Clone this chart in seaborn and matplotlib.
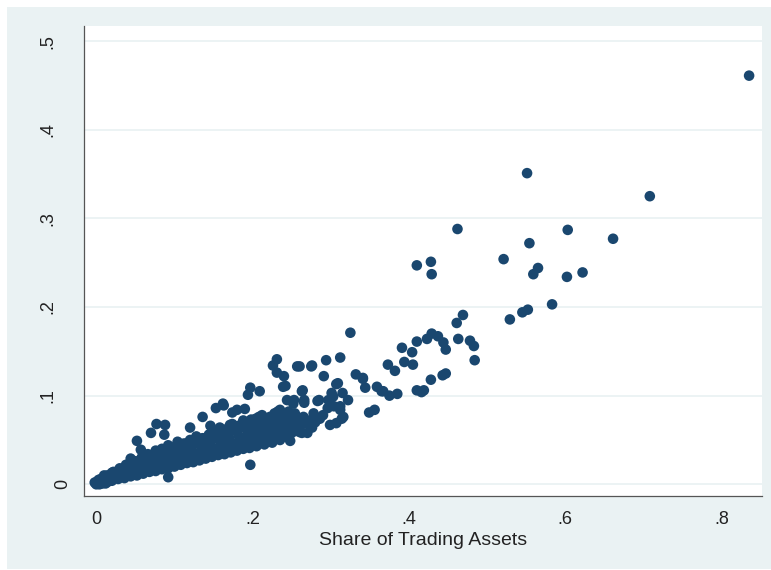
import numpy as np
import pandas as pd
import seaborn as sns
import matplotlib.pyplot as plt
from matplotlib.patches import Rectangle
from matplotlib.transforms import ScaledTranslation

# ---------------- data ----------------
x_ticks = [0, 0.2, 0.4, 0.6, 0.8]
x_tick_labels = ["0", ".2", ".4", ".6", ".8"]
y_ticks = [0, 0.1, 0.2, 0.3, 0.4, 0.5]
y_tick_labels = ["0", ".1", ".2", ".3", ".4", ".5"]
x_title = "Share of Trading Assets"

# high outliers
out_x = [0.835, 0.551, 0.708, 0.462, 0.603, 0.554, 0.661, 0.410, 0.428, 0.429,
         0.521, 0.565, 0.559, 0.602, 0.622, 0.583, 0.552, 0.545, 0.529, 0.469, 0.461]
out_y = [0.461, 0.351, 0.325, 0.288, 0.287, 0.272, 0.277, 0.247, 0.251, 0.237,
         0.254, 0.244, 0.237, 0.234, 0.239, 0.203, 0.197, 0.194, 0.186, 0.191, 0.182]

# scattered middle points
mid_x = [0.325, 0.429, 0.437, 0.423, 0.410, 0.463, 0.478, 0.483, 0.444, 0.447,
         0.391, 0.404, 0.484, 0.394, 0.405, 0.373, 0.382, 0.312, 0.294, 0.275,
         0.260, 0.291, 0.332, 0.341, 0.344, 0.359, 0.365, 0.375, 0.385, 0.428,
         0.443, 0.447, 0.410, 0.419, 0.416, 0.309, 0.349, 0.356, 0.264, 0.266,
         0.303, 0.285, 0.315, 0.322, 0.312, 0.316, 0.278, 0.265, 0.299, 0.286,
         0.307, 0.367, 0.341]
mid_y = [0.171, 0.170, 0.167, 0.164, 0.161, 0.164, 0.162, 0.156, 0.160, 0.152,
         0.154, 0.149, 0.140, 0.138, 0.135, 0.135, 0.128, 0.143, 0.140, 0.133,
         0.133, 0.122, 0.124, 0.119, 0.109, 0.110, 0.105, 0.100, 0.102, 0.118,
         0.123, 0.125, 0.106, 0.106, 0.104, 0.114, 0.081, 0.084, 0.106, 0.095,
         0.099, 0.095, 0.103, 0.095, 0.088, 0.076, 0.080, 0.076, 0.067, 0.074,
         0.069, 0.105, 0.120]

# points above / around the dense band
edge_x = [0.231, 0.226, 0.257, 0.276, 0.240, 0.231, 0.242, 0.197, 0.209, 0.194,
          0.263, 0.307, 0.301, 0.244, 0.253, 0.266, 0.283, 0.162, 0.153, 0.174,
          0.190, 0.136, 0.120, 0.146, 0.171, 0.198, 0.208, 0.232, 0.243, 0.263,
          0.248, 0.197, 0.239, 0.252, 0.297, 0.312, 0.314, 0.267, 0.252, 0.260,
          0.235, 0.231, 0.239, 0.216, 0.218, 0.226, 0.203, 0.201, 0.192, 0.180,
          0.088, 0.077, 0.070, 0.087, 0.052, 0.057, 0.044, 0.092, 0.163]
edge_y = [0.141, 0.134, 0.133, 0.134, 0.122, 0.126, 0.111, 0.109, 0.105, 0.101,
          0.105, 0.113, 0.103, 0.095, 0.095, 0.092, 0.094, 0.091, 0.086, 0.081,
          0.085, 0.076, 0.064, 0.066, 0.067, 0.073, 0.076, 0.082, 0.074, 0.058,
          0.049, 0.022, 0.110, 0.091, 0.095, 0.084, 0.074, 0.069, 0.065, 0.059,
          0.084, 0.065, 0.058, 0.067, 0.054, 0.052, 0.063, 0.050, 0.054, 0.084,
          0.067, 0.068, 0.058, 0.056, 0.049, 0.039, 0.029, 0.008, 0.089]

# upper part of the dense band
fill_x = [0.150, 0.158, 0.166, 0.174, 0.182, 0.188, 0.196, 0.204, 0.212, 0.222,
          0.228, 0.238, 0.246, 0.254, 0.212, 0.222, 0.236, 0.248, 0.256, 0.262,
          0.270, 0.276, 0.270, 0.280, 0.290, 0.296, 0.304, 0.120, 0.128, 0.136,
          0.112, 0.104, 0.144, 0.092, 0.084, 0.076, 0.066, 0.058, 0.048, 0.038,
          0.030, 0.022, 0.014]
fill_y = [0.060, 0.064, 0.062, 0.068, 0.066, 0.072, 0.070, 0.074, 0.078, 0.076,
          0.080, 0.078, 0.082, 0.080, 0.062, 0.064, 0.068, 0.070, 0.072, 0.068,
          0.072, 0.064, 0.058, 0.070, 0.078, 0.086, 0.088, 0.050, 0.054, 0.052,
          0.046, 0.048, 0.056, 0.044, 0.040, 0.038, 0.034, 0.030, 0.026, 0.022,
          0.018, 0.014, 0.010]

# inner part of the dense band
core_x = [0.062, 0.074, 0.086, 0.098, 0.110, 0.122, 0.134, 0.146, 0.158, 0.170,
          0.182, 0.194, 0.206, 0.218, 0.230, 0.242, 0.254,
          0.070, 0.090, 0.110, 0.130, 0.150, 0.170, 0.190, 0.210, 0.230, 0.250]
core_y = [0.021, 0.025, 0.028, 0.032, 0.036, 0.039, 0.043, 0.046, 0.049, 0.052,
          0.055, 0.058, 0.061, 0.063, 0.066, 0.068, 0.071,
          0.017, 0.021, 0.026, 0.031, 0.036, 0.040, 0.045, 0.049, 0.053, 0.058]

# dense band near the origin
band_x = [0.000, 0.005, 0.010, 0.015, 0.020, 0.028, 0.036, 0.044, 0.052, 0.060,
          0.068, 0.076, 0.084, 0.092, 0.100, 0.108, 0.116, 0.124, 0.132, 0.140,
          0.148, 0.156, 0.164, 0.172, 0.180, 0.188, 0.196, 0.205, 0.215, 0.225,
          0.235, 0.245,
          0.003, 0.008, 0.013, 0.018, 0.024, 0.032, 0.040, 0.048, 0.056, 0.064,
          0.072, 0.080, 0.088, 0.096, 0.104, 0.112, 0.120, 0.128, 0.136, 0.144,
          0.152, 0.160, 0.168, 0.176, 0.184, 0.192, 0.200, 0.210, 0.220, 0.230,
          0.240, 0.250, 0.260,
          0.006, 0.012, 0.020, 0.028, 0.036, 0.044, 0.052, 0.060, 0.068, 0.076,
          0.084, 0.092, 0.100, 0.110, 0.120, 0.130, 0.140, 0.150, 0.160, 0.170,
          0.180, 0.190, 0.200, 0.210, 0.220, 0.232, 0.244,
          0.010, 0.020, 0.030, 0.040, 0.050, 0.060, 0.070, 0.080, 0.090, 0.100,
          0.115, 0.130, 0.145, 0.160, 0.175, 0.190,
          0.002, 0.004, 0.001, 0.006, 0.008, 0.003, 0.012, -0.002]
band_y = [0.000, 0.001, 0.002, 0.003, 0.004, 0.006, 0.007, 0.009, 0.010, 0.012,
          0.014, 0.015, 0.017, 0.018, 0.020, 0.022, 0.024, 0.025, 0.027, 0.029,
          0.031, 0.033, 0.034, 0.036, 0.038, 0.040, 0.041, 0.043, 0.045, 0.047,
          0.050, 0.053,
          0.003, 0.004, 0.005, 0.006, 0.008, 0.010, 0.012, 0.014, 0.016, 0.018,
          0.020, 0.022, 0.024, 0.026, 0.028, 0.030, 0.032, 0.034, 0.036, 0.038,
          0.040, 0.042, 0.044, 0.046, 0.048, 0.050, 0.052, 0.054, 0.056, 0.058,
          0.060, 0.062, 0.064,
          0.006, 0.008, 0.010, 0.013, 0.016, 0.019, 0.022, 0.025, 0.027, 0.030,
          0.032, 0.035, 0.038, 0.041, 0.043, 0.046, 0.049, 0.052, 0.055, 0.058,
          0.061, 0.064, 0.066, 0.068, 0.070, 0.072, 0.074,
          0.010, 0.013, 0.016, 0.020, 0.026, 0.029, 0.031, 0.033, 0.038, 0.042,
          0.046, 0.050, 0.056, 0.060, 0.064, 0.068,
          0.001, 0.000, 0.003, 0.002, 0.001, 0.005, 0.001, 0.002]

df = pd.DataFrame({
    "share": out_x + mid_x + edge_x + fill_x + core_x + band_x,
    "value": out_y + mid_y + edge_y + fill_y + core_y + band_y,
})

# ---------------- figure ----------------
sns.set_style("white")
plt.rcParams["font.family"] = ["Liberation Sans", "DejaVu Sans"]

W, H = 771, 570
fig = plt.figure(figsize=(W / 100, H / 100), dpi=100, facecolor="white")
fig.patches.append(Rectangle((7 / W, 1 / H), 764 / W, 562 / H, transform=fig.transFigure,
                             facecolor="#EAF2F3", edgecolor="none", zorder=-10))
ax = fig.add_axes([84 / W, 74 / H, 678 / W, 470 / H])
ax.set_zorder(5)
ax.set_facecolor("white")

sns.scatterplot(data=df, x="share", y="value", s=58, color="#1A476F",
                edgecolor="none", linewidth=0, ax=ax, zorder=3)

ax.set_xlim(-0.0157, 0.8515)
ax.set_ylim(-0.0132, 0.517)
ax.set_xticks(x_ticks)
ax.set_xticklabels(x_tick_labels)
ax.set_yticks(y_ticks)
ax.set_yticklabels(y_tick_labels, rotation=90, va="center")

ax.yaxis.grid(True, color="#EAF2F3", linewidth=1.3)
ax.xaxis.grid(False)
ax.set_axisbelow(True)

for s in ["top", "right"]:
    ax.spines[s].set_visible(False)
for s in ["left", "bottom"]:
    ax.spines[s].set_color("#555555")
    ax.spines[s].set_linewidth(0.9)

ax.tick_params(axis="both", direction="out", length=5, width=0.9, color="#555555",
               labelsize=13, labelcolor="#222222")
ax.tick_params(axis="x", pad=6)
ax.tick_params(axis="y", pad=15)

# the "0" label sits closer to the axis than the decimal labels in the reference
zero_label = ax.yaxis.get_major_ticks()[0].label1
zero_label.set_transform(zero_label.get_transform() +
                         ScaledTranslation(15 / 100, 0, fig.dpi_scale_trans))

ax.set_xlabel(x_title, fontsize=14, color="#222222", labelpad=3)
ax.set_ylabel("")

fig.savefig("out.png", dpi=100, facecolor="white")
